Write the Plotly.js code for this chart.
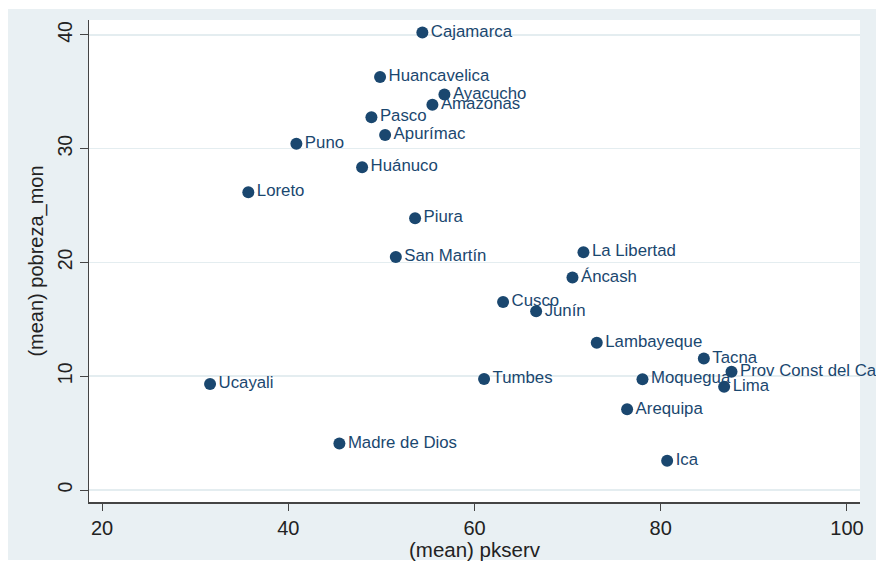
<!DOCTYPE html>
<html>
<head>
<meta charset="utf-8">
<script src="https://cdn.plot.ly/plotly-3.0.1.min.js"></script>
<style>html,body{margin:0;padding:0;background:#fff;}#chart{width:876px;height:564px;}</style>
</head>
<body>
<div id="chart"></div>
<script>
const regions = ["Cajamarca","Huancavelica","Ayacucho","Amazonas","Pasco","Apurímac","Puno","Huánuco","Loreto","Piura","San Martín","La Libertad","Áncash","Cusco","Junín","Lambayeque","Tacna","Prov Const del Callao","Ucayali","Tumbes","Moquegua","Lima","Arequipa","Madre de Dios","Ica"];
const pkserv = [54.4,49.86,56.77,55.48,48.93,50.4,40.87,47.93,35.71,53.62,51.55,71.7,70.52,63.07,66.62,73.13,84.63,87.6,31.6,61.03,78.04,86.81,76.39,45.49,80.69];
const pobrezaMon = [40.2,36.3,34.75,33.85,32.76,31.2,30.42,28.37,26.17,23.88,20.48,20.9,18.67,16.53,15.7,12.95,11.55,10.4,9.32,9.76,9.73,9.08,7.09,4.1,2.58];
const xTicks = [20,40,60,80,100];
const yTicks = [0,10,20,30,40];

const navy = '#1a476f';
const bg = '#e9f0f3';

const trace = {
  type: 'scatter',
  mode: 'markers+text',
  x: pkserv,
  y: pobrezaMon,
  text: regions,
  textposition: 'middle right',
  cliponaxis: false,
  marker: {color: navy, size: 12},
  textfont: {family: 'Liberation Sans, Arial, sans-serif', size: 16.8, color: navy},
  hoverinfo: 'none'
};

const layout = {
  width: 876, height: 564,
  margin: {l: 89, r: 16, t: 20, b: 62},
  paper_bgcolor: '#ffffff',
  plot_bgcolor: '#ffffff',
  showlegend: false,
  font: {family: 'Liberation Sans, Arial, sans-serif', color: '#222'},
  xaxis: {
    range: [18.6, 101.4],
    tickvals: xTicks,
    ticks: 'outside', ticklen: 7, tickcolor: '#444', tickwidth: 1,
    showgrid: false, zeroline: false,
    showline: true, linecolor: '#444', linewidth: 1.5,
    tickfont: {size: 20, color: '#222'},
    title: {text: '(mean) pkserv', font: {size: 20.5, color: '#222'}, standoff: 0}
  },
  yaxis: {
    range: [-1.05, 41.3],
    tickvals: yTicks,
    tickangle: -90,
    ticks: 'outside', ticklen: 8, tickcolor: '#444', tickwidth: 1,
    showgrid: true, gridcolor: '#e4edf0', gridwidth: 1.5,
    zeroline: false,
    showline: true, linecolor: '#444', linewidth: 1.5,
    tickfont: {size: 19.5, color: '#222'},
    title: {text: '(mean) pobreza_mon', font: {size: 20, color: '#222'}, standoff: 4}
  },
  shapes: [
    {type: 'rect', xref: 'paper', yref: 'paper', layer: 'below',
     x0: (8-89)/771, x1: (880-89)/771, y0: (502-560)/482, y1: (502-9)/482,
     fillcolor: bg, line: {width: 0}},
    {type: 'rect', xref: 'paper', yref: 'paper', layer: 'below',
     x0: 0, x1: 1, y0: 0, y1: 1,
     fillcolor: '#ffffff', line: {width: 0}}
  ]
};

Plotly.newPlot('chart', [trace], layout, {staticPlot: true, displayModeBar: false});
</script>
</body>
</html>
